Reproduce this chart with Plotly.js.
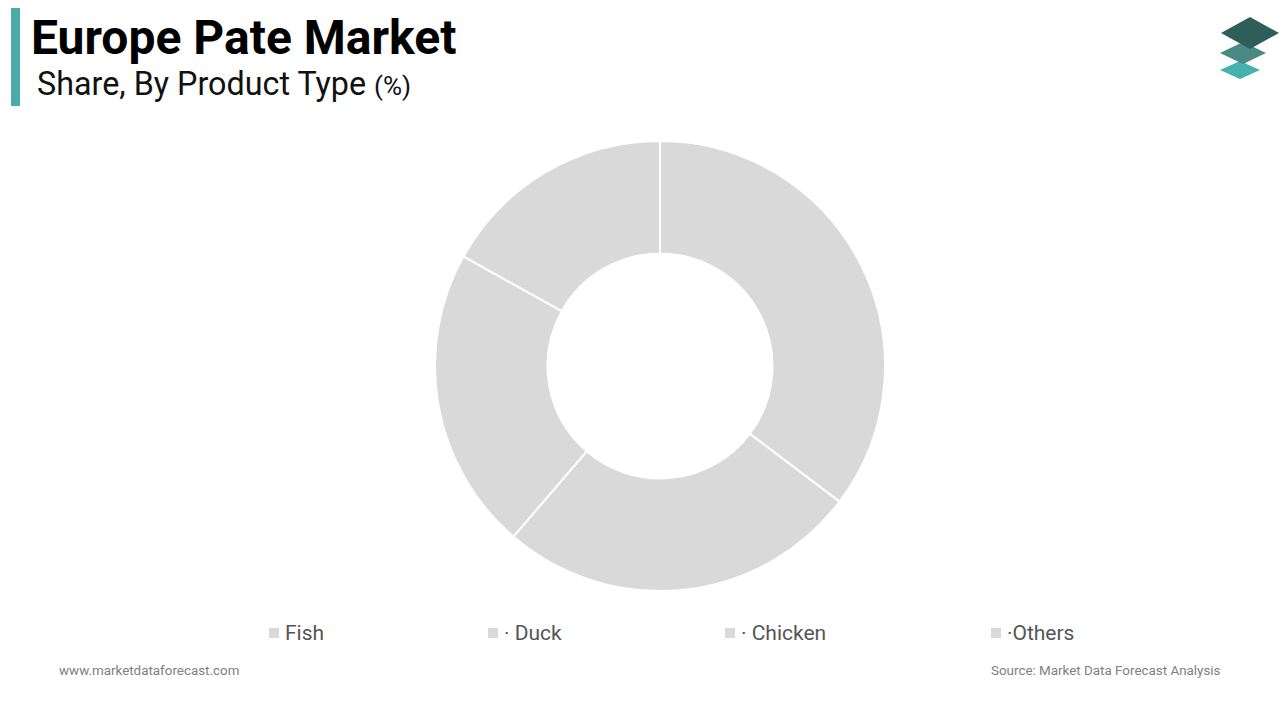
<!DOCTYPE html>
<html><head><meta charset="utf-8">
<script src="https://cdn.plot.ly/plotly-3.0.1.min.js"></script>
<style>html,body{margin:0;padding:0;background:#fff;}#chart{width:1280px;height:720px;}</style>
</head><body><div id="chart"></div>
<script>
const categories = ["Fish", "Duck", "Chicken", "Others"];
const legendLabels = ["Fish", "· Duck", "· Chicken", "·Others"];
const shares = [35.3, 26, 21.8, 16.9];

const W = 1280, H = 720;
const sliceColor = "#d9d9d9";
const legendX = [269, 488, 725, 991];
const legendY = 633;

const px = x => x / W;
const py = y => 1 - y / H;

function rh(cx, cy, rx, ry) {
  const pts = [[cx, cy - ry], [cx + rx, cy], [cx, cy + ry], [cx - rx, cy]];
  return "M" + pts.map(p => px(p[0]) + "," + py(p[1])).join(" L") + " Z";
}
const shapes = [
  {type: "rect", xref: "paper", yref: "paper", x0: px(11), x1: px(20), y0: py(106), y1: py(8), fillcolor: "#4aabab", line: {width: 0}},
  {type: "path", xref: "paper", yref: "paper", path: rh(1240, 70, 20, 9), fillcolor: "#45b2ae", line: {width: 0}},
  {type: "path", xref: "paper", yref: "paper", path: rh(1243, 53, 23, 11), fillcolor: "#4b8a84", line: {width: 0}},
  {type: "path", xref: "paper", yref: "paper", path: rh(1250, 33, 29, 16), fillcolor: "#2f5e59", line: {width: 0}}
];

const annotations = [
  {text: "<b>Europe Pate Market</b>", x: px(29), y: py(37), xref: "paper", yref: "paper", xanchor: "left", yanchor: "middle", showarrow: false, font: {family: "Roboto", size: 48, color: "#000"}},
  {text: "Share, By Product Type <span style='font-size:26px'>(%)</span>", x: px(35), y: py(84), xref: "paper", yref: "paper", xanchor: "left", yanchor: "middle", showarrow: false, font: {family: "Roboto", size: 32.3, color: "#111"}},
  {text: "www.marketdataforecast.com", x: px(57), y: py(670), xref: "paper", yref: "paper", xanchor: "left", yanchor: "middle", showarrow: false, font: {family: "Roboto", size: 13.4, color: "#808080"}},
  {text: "Source: Market Data Forecast Analysis", x: px(1223), y: py(670), xref: "paper", yref: "paper", xanchor: "right", yanchor: "middle", showarrow: false, font: {family: "Roboto", size: 13.4, color: "#808080"}}
];
legendLabels.forEach((lab, i) => {
  shapes.push({type: "rect", xref: "paper", yref: "paper", x0: px(legendX[i]), x1: px(legendX[i] + 10), y0: py(legendY + 5), y1: py(legendY - 5), fillcolor: sliceColor, line: {width: 0}});
  annotations.push({text: lab, x: px(legendX[i] + 14), y: py(legendY), xref: "paper", yref: "paper", xanchor: "left", yanchor: "middle", showarrow: false, font: {family: "Roboto", size: 21, color: "#555"}});
});

const trace = {
  type: "pie",
  labels: categories,
  values: shares,
  hole: 0.5,
  sort: false,
  direction: "clockwise",
  rotation: 0,
  textinfo: "none",
  hoverinfo: "label+percent",
  marker: {colors: categories.map(() => sliceColor), line: {color: "#fff", width: 2}},
  domain: {x: [px(435), px(885)], y: [py(591), py(141)]},
  showlegend: false
};

Plotly.newPlot("chart", [trace], {
  width: W, height: H,
  margin: {l: 0, r: 0, t: 0, b: 0},
  paper_bgcolor: "#fff",
  showlegend: false,
  shapes: shapes,
  annotations: annotations
}, {displayModeBar: false, staticPlot: true});
</script>
</body></html>
